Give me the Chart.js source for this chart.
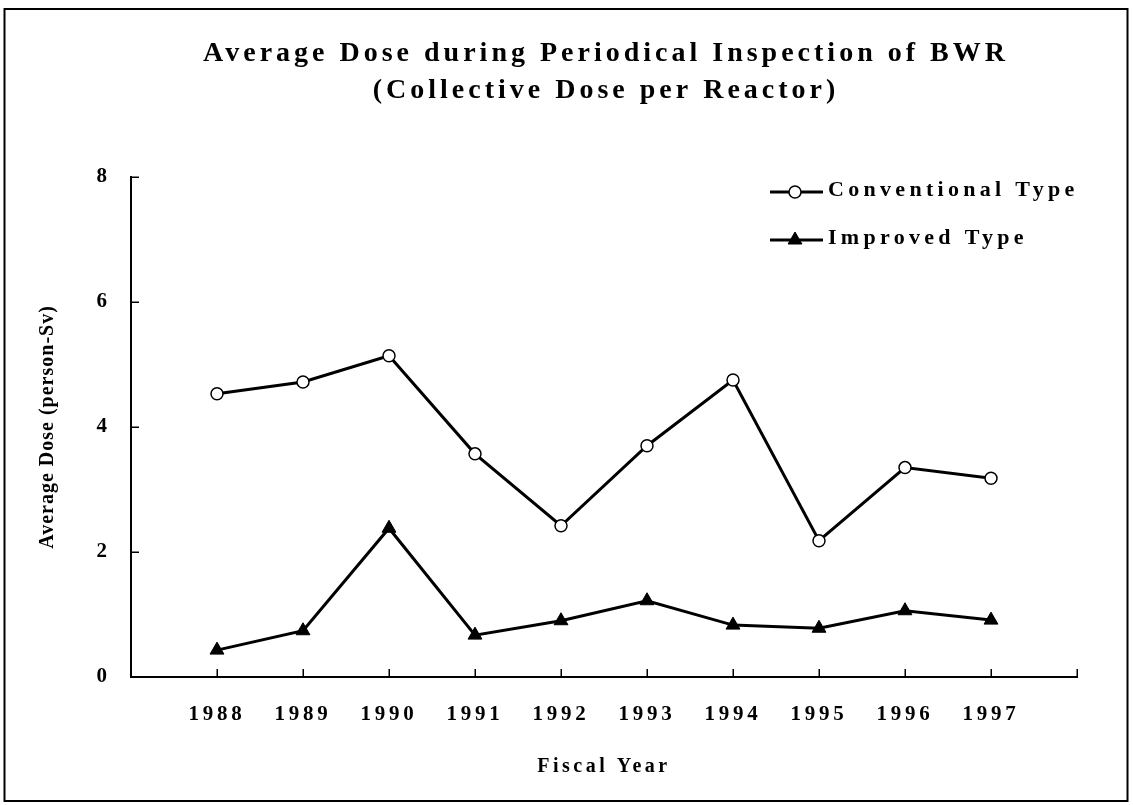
<!DOCTYPE html>
<html>
<head>
<meta charset="utf-8">
<script src="https://cdn.jsdelivr.net/npm/chart.js@4/dist/chart.umd.min.js"></script>
<style>
  html, body { margin: 0; padding: 0; background: #ffffff; }
  canvas { display: block; }
</style>
</head>
<body>
<canvas id="chart" width="1133" height="805"></canvas>
<script>
// ---- data ----
const titleLines = ['Average Dose during Periodical Inspection of BWR', '(Collective Dose per Reactor)'];
const fiscalYears = ['', '1988', '1989', '1990', '1991', '1992', '1993', '1994', '1995', '1996', '1997', ''];
const conventionalType = [null, 4.53, 4.72, 5.14, 3.57, 2.42, 3.70, 4.75, 2.18, 3.35, 3.18, null];
const improvedType = [null, 0.43, 0.74, 2.38, 0.67, 0.90, 1.22, 0.83, 0.78, 1.06, 0.91, null];
const seriesNames = ['Conventional Type', 'Improved Type'];
const yTickValues = [0, 2, 4, 6, 8];
const xAxisTitle = 'Fiscal Year';
const yAxisTitle = 'Average Dose (person-Sv)';

const FONT = "'Liberation Serif', 'Times New Roman', Times, serif";

function spaced(obj, method, spacing, shiftFn) {
  const key = '__wrapped_' + method;
  if (!obj || obj[key]) return;
  const orig = obj[method];
  obj[method] = function (...args) {
    const c = this.ctx;
    c.save();
    c.letterSpacing = spacing;
    if (shiftFn) c.translate(shiftFn(this), 0);
    const r = orig.apply(this, args);
    c.restore();
    return r;
  };
  obj[key] = true;
}

const pageFrame = {
  id: 'pageFrame',
  beforeDraw(chart) {
    const ctx = chart.ctx;
    ctx.save();
    ctx.fillStyle = '#ffffff';
    ctx.fillRect(0, 0, chart.width, chart.height);
    ctx.strokeStyle = '#000000';
    ctx.lineWidth = 2;
    ctx.strokeRect(4.5, 9, 1123, 792);
    ctx.restore();
    // centre the title over the plot area, as in the reference
    spaced(chart.titleBlock, 'draw', '4px', (tb) => {
      const ca = chart.chartArea;
      return (ca.left + ca.right) / 2 - (tb.left + tb.right) / 2 + 2;
    });
    spaced(chart.scales.x, 'drawLabels', '3.7px');
    spaced(chart.scales.x, 'drawTitle', '3.5px');
    spaced(chart.scales.y, 'drawTitle', '1px');
  }
};

const inwardTicks = {
  id: 'inwardTicks',
  beforeDatasetsDraw(chart) {
    const { ctx, scales: { x, y }, chartArea } = chart;
    ctx.save();
    ctx.strokeStyle = '#000000';
    ctx.lineWidth = 1.5;
    ctx.beginPath();
    x.ticks.forEach((t, i) => {
      const px = Math.round(x.getPixelForTick(i)) + 0.25;
      ctx.moveTo(px, chartArea.bottom);
      ctx.lineTo(px, chartArea.bottom - 8);
    });
    y.ticks.forEach((t, i) => {
      const py = Math.round(y.getPixelForTick(i)) + 0.25;
      ctx.moveTo(chartArea.left, py);
      ctx.lineTo(chartArea.left + 8, py);
    });
    ctx.stroke();
    ctx.restore();
  }
};

function drawMarker(ctx, ds, x, y) {
  ctx.save();
  ctx.fillStyle = ds.pointBackgroundColor;
  ctx.strokeStyle = ds.pointBorderColor;
  ctx.lineWidth = ds.pointBorderWidth;
  ctx.beginPath();
  const r = ds.pointRadius;
  if (ds.pointStyle === 'triangle') {
    let rad = 0;
    const step = Math.PI * 2 / 3;
    ctx.moveTo(x + Math.sin(rad) * r, y - Math.cos(rad) * r);
    rad += step;
    ctx.lineTo(x + Math.sin(rad) * r, y - Math.cos(rad) * r);
    rad += step;
    ctx.lineTo(x + Math.sin(rad) * r, y - Math.cos(rad) * r);
    ctx.closePath();
  } else {
    ctx.arc(x, y, r, 0, Math.PI * 2);
  }
  ctx.fill();
  ctx.stroke();
  ctx.restore();
}

const lineLegend = {
  id: 'lineLegend',
  afterDraw(chart) {
    const ctx = chart.ctx;
    const rows = [190, 238];
    chart.data.datasets.forEach((ds, i) => {
      const yLine = rows[i] + 2;
      ctx.save();
      ctx.strokeStyle = ds.borderColor;
      ctx.lineWidth = ds.borderWidth;
      ctx.beginPath();
      ctx.moveTo(770, yLine);
      ctx.lineTo(823, yLine);
      ctx.stroke();
      ctx.restore();
      drawMarker(ctx, ds, 795, yLine);
      ctx.save();
      ctx.letterSpacing = '4.3px';
      ctx.fillStyle = '#000000';
      ctx.font = 'bold 22px ' + FONT;
      ctx.textAlign = 'left';
      ctx.textBaseline = 'middle';
      ctx.fillText(ds.label, 828, rows[i]);
      ctx.restore();
    });
  }
};

new Chart(document.getElementById('chart'), {
  type: 'line',
  data: {
    labels: fiscalYears,
    datasets: [
      {
        label: seriesNames[0],
        data: conventionalType,
        borderColor: '#000000',
        borderWidth: 3,
        pointStyle: 'circle',
        pointRadius: 6,
        pointBackgroundColor: '#ffffff',
        pointBorderColor: '#000000',
        pointBorderWidth: 1.5,
        tension: 0,
        fill: false
      },
      {
        label: seriesNames[1],
        data: improvedType,
        borderColor: '#000000',
        borderWidth: 3,
        pointStyle: 'triangle',
        pointRadius: 8,
        pointBackgroundColor: '#000000',
        pointBorderColor: '#000000',
        pointBorderWidth: 1,
        tension: 0,
        fill: false
      }
    ]
  },
  options: {
    responsive: false,
    animation: false,
    devicePixelRatio: 1,
    layout: { padding: { left: 5, right: 56, top: 0, bottom: 0 } },
    plugins: {
      legend: { display: false },
      tooltip: { enabled: false },
      title: {
        display: true,
        text: titleLines,
        color: '#000000',
        font: { family: FONT, size: 28, weight: 'bold', lineHeight: 1.32 },
        padding: { top: 35, bottom: 68 }
      }
    },
    scales: {
      x: {
        type: 'category',
        offset: false,
        grid: { display: false, drawTicks: false },
        border: { display: true, color: '#000000', width: 2 },
        ticks: {
          autoSkip: false,
          maxRotation: 0,
          color: '#000000',
          padding: 25,
          font: { family: FONT, size: 21, weight: 'bold' }
        },
        title: {
          display: true,
          text: xAxisTitle,
          color: '#000000',
          font: { family: FONT, size: 20, weight: 'bold' },
          padding: { top: 0, bottom: 26 }
        },
        afterFit(scale) { scale.height = 128; }
      },
      y: {
        min: 0,
        max: 8,
        afterBuildTicks(scale) { scale.ticks = yTickValues.map(v => ({ value: v })); },
        grid: { display: false, drawTicks: false },
        border: { display: true, color: '#000000', width: 2 },
        ticks: {
          color: '#000000',
          padding: 24,
          font: { family: FONT, size: 21, weight: 'bold' }
        },
        title: {
          display: true,
          text: yAxisTitle,
          color: '#000000',
          font: { family: FONT, size: 20, weight: 'bold' },
          padding: { top: 31, bottom: 0 }
        },
        afterFit(scale) { scale.width = 126; }
      }
    }
  },
  plugins: [pageFrame, inwardTicks, lineLegend]
});
</script>
</body>
</html>
